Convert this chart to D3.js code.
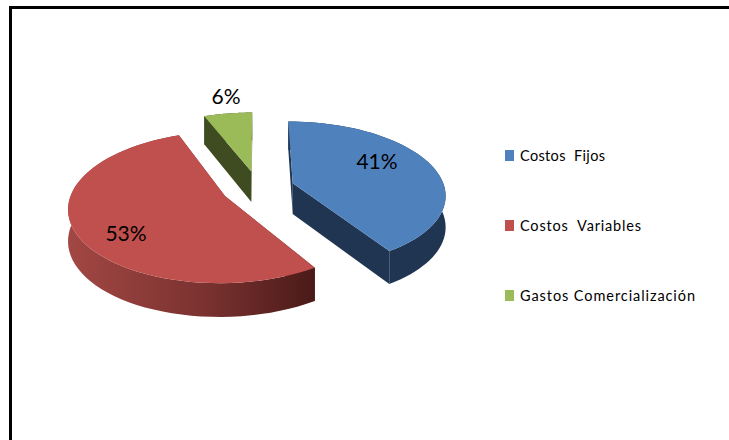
<!DOCTYPE html>
<html>
<head>
<meta charset="utf-8">
<script src="https://cdnjs.cloudflare.com/ajax/libs/d3/7.8.5/d3.min.js"></script>
<style>
    html, body { margin: 0; padding: 0; background: #fff; }
    svg { display: block; }
    text { font-family: Lato, "Open Sans", sans-serif; fill: #000; }
</style>
</head>
<body>
<svg width="729" height="440"></svg>
<script>
var categories = ["Costos  Fijos", "Costos  Variables", "Gastos Comercialización"];
var values = [41, 53, 6];
var topColors = ["#4f81bd", "#c0504d", "#9bbb59"];
var wallColors = ["#1f3552", "url(#redWall)", "#3f4c21"];

var svg = d3.select("svg");

// 3d pie settings
var center = {x: 258, y: 188};
var rx = 152, ry = 72, perspective = 0.145, explode = 0.24;

// frame, only top and left sides are inside the picture
svg.append("path")
    .attr("d", "M10.5,440V7.5H729")
    .attr("fill", "none")
    .attr("stroke", "#000")
    .attr("stroke-width", 3);

var defs = svg.append("defs");
var redGrad = defs.append("linearGradient")
    .attr("id", "redWall")
    .attr("gradientUnits", "userSpaceOnUse")
    .attr("x1", 68).attr("x2", 316).attr("y1", 0).attr("y2", 0);
redGrad.append("stop").attr("offset", "0").attr("stop-color", "#a24744");
redGrad.append("stop").attr("offset", "0.55").attr("stop-color", "#7a3230");
redGrad.append("stop").attr("offset", "1").attr("stop-color", "#4a1a18");

// pie plane to screen, Y goes to the back of the pie
function project(X, Y) {
    var s = 1 / (1 + perspective * Y);
    return [center.x + rx * X * s, center.y - ry * Y * s];
}

function depth(Y) {
    return 31 - 2.5 * Y;
}

var pie = d3.pie().sort(null).startAngle(0).endAngle(2 * Math.PI);
var slices = pie(values);
var line = d3.line();

var g = svg.append("g");

slices.forEach(function (d, i) {
    // angle 0 = back of the pie, clockwise
    var mid = (d.startAngle + d.endAngle) / 2;
    var ox = explode * Math.sin(mid), oy = explode * Math.cos(mid);
    var apex = project(ox, oy);

    var arcPts = d3.range(0, 61).map(function (k) {
        var a = d.startAngle + (d.endAngle - d.startAngle) * k / 60;
        var Y = oy + Math.cos(a);
        var p = project(ox + Math.sin(a), Y);
        return {x: p[0], y: p[1], dz: depth(Y)};
    });
    var top = arcPts.map(function (p) { return [p.x, p.y]; });
    var bottom = arcPts.map(function (p) { return [p.x, p.y + p.dz]; });

    var slice = g.append("g").attr("class", "slice");

    // cut faces
    [arcPts[0], arcPts[arcPts.length - 1]].forEach(function (p) {
        slice.append("path")
            .attr("d", line([apex, [p.x, p.y], [p.x, p.y + p.dz], [apex[0], apex[1] + depth(oy)]]) + "Z")
            .attr("fill", wallColors[i]);
    });

    // outer wall
    slice.append("path")
        .attr("d", line(top.concat(bottom.slice().reverse())) + "Z")
        .attr("fill", wallColors[i]);

    // top face
    slice.append("path")
        .attr("d", line([apex].concat(top)) + "Z")
        .attr("fill", topColors[i]);
});

// percentage labels
var labelPos = [[377, 161], [126, 233], [226, 96]];
svg.selectAll(".pct")
    .data(values)
    .enter().append("text")
    .attr("class", "pct")
    .attr("x", function (d, i) { return labelPos[i][0]; })
    .attr("y", function (d, i) { return labelPos[i][1]; })
    .attr("dy", "0.36em")
    .attr("text-anchor", "middle")
    .attr("font-size", 21)
    .text(function (d) { return d + "%"; });

// legend
var legendWidths = [85, 121, 175];
var legendY = d3.scalePoint().domain(categories).range([156, 296]);
var legend = svg.selectAll(".legend")
    .data(categories)
    .enter().append("g")
    .attr("class", "legend")
    .attr("transform", function (d) { return "translate(505," + legendY(d) + ")"; });
legend.append("rect")
    .attr("x", 0).attr("y", -6)
    .attr("width", 9).attr("height", 11)
    .attr("fill", function (d, i) { return topColors[i]; });
legend.append("text")
    .attr("x", 15)
    .attr("dy", "0.35em")
    .attr("font-size", 14.5)
    .attr("textLength", function (d, i) { return legendWidths[i]; })
    .attr("lengthAdjust", "spacing")
    .style("white-space", "pre")
    .text(function (d) { return d; });
</script>
</body>
</html>
